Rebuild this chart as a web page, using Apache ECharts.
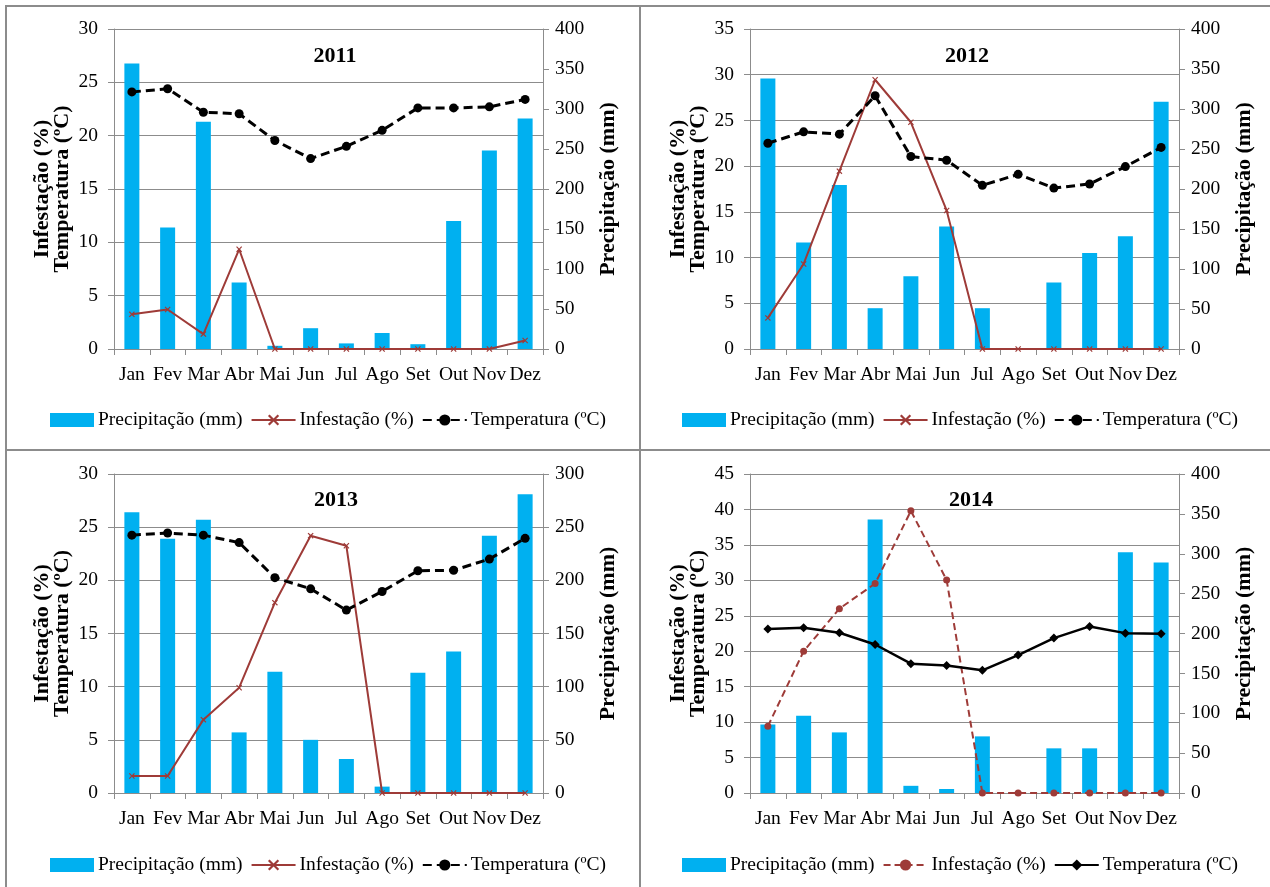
<!DOCTYPE html>
<html>
<head>
<meta charset="utf-8">
<script src="https://cdn.jsdelivr.net/npm/echarts@6/dist/echarts.min.js"></script>
<style>
  html, body { margin: 0; padding: 0; background: #fff; }
  body { width: 1270px; height: 887px; position: relative; overflow: hidden; }
  .panel { position: absolute; }
  .ln { position: absolute; background: #8c8c8c; }
</style>
</head>
<body>
<div class="ln" style="left:5px;top:5px;width:1265px;height:2px;"></div>
<div class="ln" style="left:5px;top:5px;width:2px;height:882px;"></div>
<div class="ln" style="left:639px;top:5px;width:2px;height:882px;"></div>
<div class="ln" style="left:5px;top:449px;width:1265px;height:2px;"></div>
<div id="p1" class="panel" style="left:0px;top:0px;width:639px;height:449px;"></div>
<div id="p2" class="panel" style="left:641px;top:0px;width:629px;height:449px;"></div>
<div id="p3" class="panel" style="left:0px;top:451px;width:639px;height:436px;"></div>
<div id="p4" class="panel" style="left:641px;top:451px;width:629px;height:436px;"></div>
<script>
// ---------- data ----------
const months = ['Jan','Fev','Mar','Abr','Mai','Jun','Jul','Ago','Set','Out','Nov','Dez'];

const prec2011 = [357, 152, 284, 83, 4, 26, 7, 20, 6, 160, 248, 288];
const inf2011  = [3.25, 3.7, 1.4, 9.35, 0, 0, 0, 0, 0, 0, 0, 0.8];
const temp2011 = [24.1, 24.4, 22.2, 22.05, 19.55, 17.85, 19.0, 20.5, 22.6, 22.6, 22.7, 23.4];

const prec2012 = [338, 133, 205, 51, 91, 153, 51, 0, 83, 120, 141, 309];
const inf2012  = [3.4, 9.3, 19.45, 29.45, 24.8, 15.15, 0, 0, 0, 0, 0, 0];
const temp2012 = [22.5, 23.75, 23.5, 27.7, 21.05, 20.65, 17.9, 19.1, 17.6, 18.05, 19.95, 22.05];

const prec2013 = [264, 239, 257, 57, 114, 50, 32, 6, 113, 133, 242, 281];
const inf2013  = [1.6, 1.6, 6.9, 9.9, 17.9, 24.2, 23.25, 0, 0, 0, 0, 0];
const temp2013 = [24.25, 24.45, 24.25, 23.55, 20.25, 19.2, 17.2, 18.95, 20.9, 20.95, 22.0, 23.95];

const prec2014 = [86, 97, 76, 343, 9, 5, 71, 0, 56, 56, 302, 289];
const inf2014  = [9.4, 20.0, 26.0, 29.55, 39.8, 30.05, 0, 0, 0, 0, 0, 0];
const temp2014 = [23.15, 23.3, 22.6, 20.95, 18.25, 18.0, 17.3, 19.45, 21.85, 23.5, 22.55, 22.45];

const nPrec = 'Precipitação (mm)';
const nInf = 'Infestação (%)';
const nTemp = 'Temperatura (ºC)';
const leftName = 'Infestação (%)\nTemperatura (ºC)';

// ---------- styling ----------
const FONT = '"Liberation Serif", "Times New Roman", serif';
const BLUE = '#00B0F0';
const RED = '#9E3B38';
const GRAY = '#8c8c8c';
const XSYM = 'path://M0,1.4 L1.4,0 L5,3.6 L8.6,0 L10,1.4 L6.4,5 L10,8.6 L8.6,10 L5,6.4 L1.4,10 L0,8.6 L3.6,5 Z';

function build(id, ox, oy, cfg) {
  const chart = echarts.init(document.getElementById(id), null, { renderer: 'canvas' });
  const gl = cfg.gx - ox, gt = cfg.gyT - oy, gh = cfg.gyB - cfg.gyT, gw = 429;
  const infSeries = cfg.v2014 ? {
      name: nInf, type: 'line', yAxisIndex: 0, data: cfg.inf,
      symbol: 'circle', symbolSize: 7, showAllSymbol: true,
      lineStyle: { color: RED, width: 2, type: [7, 4] },
      itemStyle: { color: RED }, z: 3
    } : {
      name: nInf, type: 'line', yAxisIndex: 0, data: cfg.inf,
      symbol: XSYM, symbolSize: 6, showAllSymbol: true,
      lineStyle: { color: RED, width: 2 },
      itemStyle: { color: RED }, z: 3
    };
  const tempSeries = cfg.v2014 ? {
      name: nTemp, type: 'line', yAxisIndex: 0, data: cfg.temp,
      symbol: 'diamond', symbolSize: 9, showAllSymbol: true,
      lineStyle: { color: '#000', width: 2.5 },
      itemStyle: { color: '#000' }, z: 4
    } : {
      name: nTemp, type: 'line', yAxisIndex: 0, data: cfg.temp,
      symbol: 'circle', symbolSize: 9, showAllSymbol: true,
      lineStyle: { color: '#000', width: 3, type: [9, 5] },
      itemStyle: { color: '#000' }, z: 4
    };
  chart.setOption({
    animation: false,
    textStyle: { fontFamily: FONT },
    title: {
      text: cfg.year, left: cfg.titleX - ox, top: cfg.titleY - oy, textAlign: 'center',
      textStyle: { fontFamily: FONT, fontWeight: 'bold', fontSize: 22, color: '#000' }
    },
    legend: {
      left: cfg.legX - ox, top: cfg.legY - oy, itemGap: 8, itemWidth: 44, itemHeight: 14,
      textStyle: { fontFamily: FONT, fontSize: 19.5, color: '#000', padding: [0, 0, 0, -1] },
      data: [{ name: nPrec, icon: 'rect' }, nInf, nTemp]
    },
    grid: { left: gl, top: gt, width: gw, height: gh, containLabel: false },
    xAxis: {
      type: 'category', data: months, boundaryGap: true,
      axisLine: { lineStyle: { color: GRAY, width: 1 } },
      axisTick: { show: true, length: 6, lineStyle: { color: GRAY } },
      axisLabel: { interval: 0, fontFamily: FONT, fontSize: 19.5, color: '#000', margin: 16 }
    },
    yAxis: [{
      type: 'value', min: 0, max: cfg.leftMax, interval: 5, position: 'left',
      name: leftName, nameLocation: 'middle', nameRotate: 90, nameGap: 42, nameMoveOverlap: false,
      nameTextStyle: { fontFamily: FONT, fontWeight: 'bold', fontSize: 22, lineHeight: 20, color: '#000' },
      axisLine: { show: true, lineStyle: { color: GRAY, width: 1 } },
      axisTick: { show: true, length: 6, lineStyle: { color: GRAY } },
      axisLabel: { fontFamily: FONT, fontSize: 19.5, color: '#000', margin: 16 },
      splitLine: { show: true, lineStyle: { color: GRAY, width: 1 } }
    }, {
      type: 'value', min: 0, max: cfg.rightMax, interval: 50, position: 'right',
      name: nPrec, nameLocation: 'middle', nameRotate: 90, nameGap: 54, nameMoveOverlap: false,
      nameTextStyle: { fontFamily: FONT, fontWeight: 'bold', fontSize: 22, color: '#000' },
      axisLine: { show: true, lineStyle: { color: GRAY, width: 1 } },
      axisTick: { show: true, length: 6, lineStyle: { color: GRAY } },
      axisLabel: { fontFamily: FONT, fontSize: 19.5, color: '#000', margin: 12 },
      splitLine: { show: false }
    }],
    series: [{
      name: nPrec, type: 'bar', yAxisIndex: 1, data: cfg.prec, barWidth: 15,
      itemStyle: { color: BLUE }, z: 2
    }, infSeries, tempSeries]
  });
}

build('p1', 0, 0, { year: '2011', prec: prec2011, inf: inf2011, temp: temp2011,
  leftMax: 30, rightMax: 400, gx: 114, gyT: 29, gyB: 349, titleX: 330, titleY: 40, legX: 45, legY: 405 });
build('p2', 641, 0, { year: '2012', prec: prec2012, inf: inf2012, temp: temp2012,
  leftMax: 35, rightMax: 400, gx: 750, gyT: 29, gyB: 349, titleX: 962, titleY: 40, legX: 677, legY: 405 });
build('p3', 0, 451, { year: '2013', prec: prec2013, inf: inf2013, temp: temp2013,
  leftMax: 30, rightMax: 300, gx: 114, gyT: 474, gyB: 793, titleX: 331, titleY: 484, legX: 45, legY: 850 });
build('p4', 641, 451, { year: '2014', prec: prec2014, inf: inf2014, temp: temp2014, v2014: true,
  leftMax: 45, rightMax: 400, gx: 750, gyT: 474, gyB: 793, titleX: 966, titleY: 484, legX: 677, legY: 850 });
</script>
</body>
</html>
